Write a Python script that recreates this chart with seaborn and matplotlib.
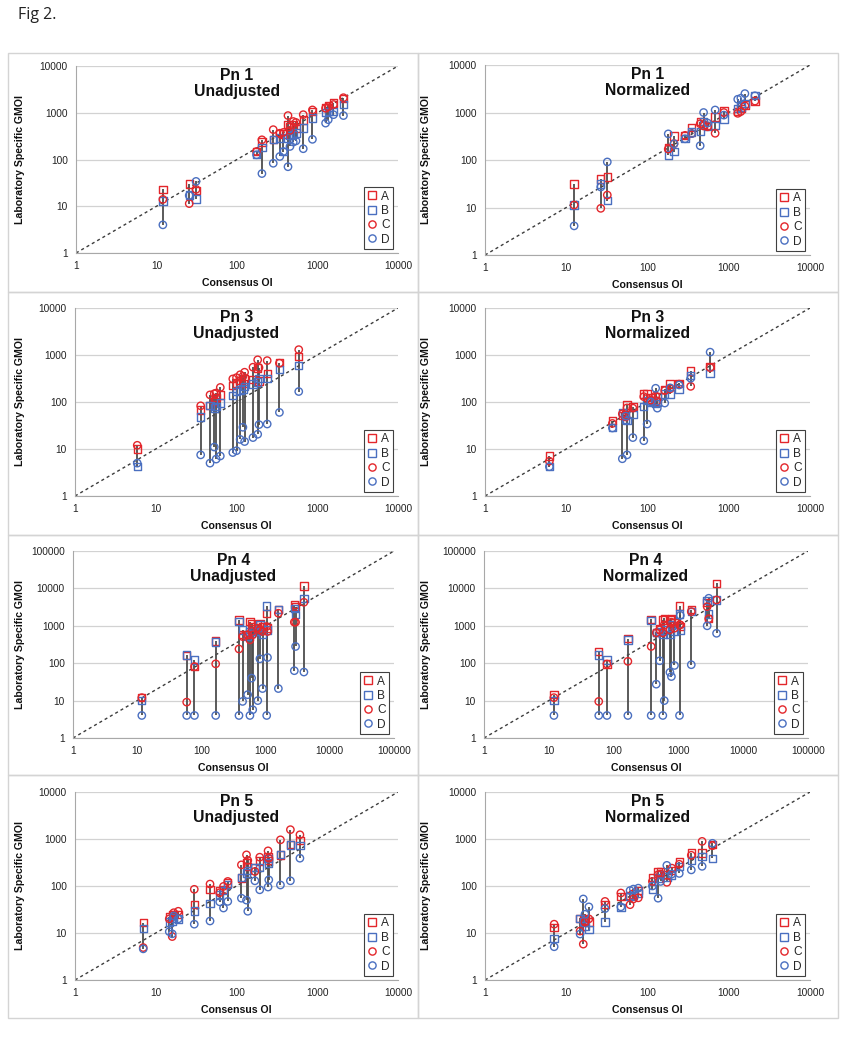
import numpy as np
import pandas as pd
import matplotlib
matplotlib.use("Agg")
import matplotlib.pyplot as plt
import seaborn as sns
from matplotlib.lines import Line2D
from matplotlib.patches import Rectangle
from matplotlib.ticker import FixedLocator, FixedFormatter, NullLocator

# ---------------- data ----------------
series_names = ["A", "B", "C", "D"]

# Pn 1 Unadjusted
p1u_x = [12, 25.5, 31, 175, 204, 282, 340, 377, 430, 455, 500, 540, 665, 865, 1260, 1360, 1580, 2100]
p1u_A = [23, 30, 22, 148, 236, 264, 365, 350, 560, 510, 550, 460, 700, 1050, 1300, 1450, 1620, 2050]
p1u_B = [13, 17.5, 14.4, 126, 181, 264, 288, 148, 290, 330, 340, 370, 470, 770, 1000, 1080, 1070, 1480]
p1u_C = [14, 11.4, 23, 148, 264, 435, 365, 380, 870, 420, 650, 620, 910, 1150, 1250, 1350, 1500, 2100]
p1u_D = [4, 17, 34, 126, 50, 83, 116, 148, 70, 190, 236, 250, 170, 270, 600, 710, 910, 870]

# Pn 1 Normalized
p1n_x = [12.5, 26.6, 32, 180, 212, 290, 350, 445, 490, 550, 680, 870, 1290, 1410, 1580, 2100]
p1n_A = [31, 40, 44, 182, 320, 330, 480, 640, 560, 530, 800, 1070, 1040, 1200, 1440, 1740]
p1n_B = [11.3, 31, 14, 127, 150, 280, 390, 400, 650, 520, 530, 730, 1200, 1300, 1560, 2250]
p1n_C = [11.3, 9.6, 18.3, 170, 220, 330, 360, 580, 520, 500, 365, 1000, 960, 1050, 1380, 1740]
p1n_D = [4.1, 27, 91, 355, 220, 280, 360, 200, 1000, 600, 1130, 880, 1900, 2000, 2500, 2250]

# Pn 3 Unadjusted
p3u_x = [5.9, 36, 47, 53, 56, 63, 90, 100, 111, 120, 126, 160, 183, 190, 240, 340, 590]
p3u_A = [10, 68, 85, 102, 125, 140, 225, 255, 290, 250, 310, 300, 525, 280, 410, 690, 930]
p3u_B = [4.2, 48, 83, 74, 80, 95, 138, 167, 180, 190, 215, 240, 265, 320, 320, 490, 600]
p3u_C = [12, 83, 142, 150, 155, 204, 310, 330, 380, 350, 430, 550, 790, 540, 760, 670, 1300]
p3u_D = [5, 7.5, 5, 11, 6.1, 7.1, 8.4, 9.2, 16, 29, 14.4, 17.5, 20.6, 33, 34, 60, 167]

# Pn 3 Normalized
p3n_x = [6.2, 37, 49, 54, 56, 66, 90, 99, 110, 126, 132, 163, 190, 245, 340, 590]
p3n_A = [7.1, 40, 51, 55, 87, 80, 147, 147, 125, 105, 130, 187, 240, 250, 460, 575]
p3n_B = [4.2, 29, 60, 42, 40, 55, 80, 106, 100, 92, 100, 147, 147, 190, 365, 410]
p3n_C = [5.5, 35, 56, 48, 75, 74, 130, 120, 110, 135, 105, 175, 190, 240, 215, 540]
p3n_D = [4.2, 28, 6.2, 50, 7.5, 17.5, 15, 34, 100, 196, 74, 95, 200, 230, 320, 1150]

# Pn 4 Unadjusted
p4u_x = [11.8, 59, 78, 167, 385, 438, 525, 570, 605, 630, 755, 815, 895, 1040, 1070, 1580, 2800, 2930, 3950]
p4u_A = [12.2, 160, 81, 395, 1440, 575, 575, 1300, 1170, 955, 1060, 1170, 955, 2170, 865, 2680, 3650, 3250, 11700]
p4u_B = [10, 167, 123, 370, 1300, 780, 515, 705, 635, 705, 705, 1060, 575, 3400, 780, 2680, 2950, 2040, 5450]
p4u_C = [12, 9.1, 81, 96, 240, 515, 575, 420, 705, 575, 865, 780, 705, 955, 705, 2170, 1250, 1250, 4250]
p4u_D = [4, 4, 4, 4, 4, 9.5, 14.4, 4, 40, 5.7, 10, 131, 21, 4, 142, 21, 63, 280, 58]

# Pn 4 Normalized
p4n_x = [12, 59, 79, 166, 380, 455, 515, 575, 605, 740, 780, 870, 1040, 1070, 1580, 2780, 2940, 3880]
p4n_A = [14.4, 205, 95, 450, 1500, 675, 830, 1440, 1580, 1440, 1580, 1250, 3400, 955, 2680, 4250, 1540, 13700]
p4n_B = [10, 167, 123, 420, 1400, 650, 705, 575, 780, 575, 1060, 705, 2050, 740, 2400, 4800, 2050, 4900]
p4n_C = [12, 9.5, 95, 112, 280, 650, 780, 650, 1060, 780, 1250, 865, 1060, 1060, 2400, 3250, 1540, 4900]
p4n_D = [4, 4, 4, 4, 4, 27.5, 116, 4, 10, 57, 44, 87, 4, 1900, 91, 1000, 5450, 630]

# Pn 5 Unadjusted
p5u_x = [7.0, 14.7, 16, 16.7, 19, 30, 47, 62, 69, 78, 115, 133, 138, 169, 194, 246, 251, 350, 465, 610]
p5u_A = [16.6, 22.4, 24, 25, 25, 41, 83, 81, 85, 115, 148, 308, 260, 250, 340, 425, 350, 460, 760, 920]
p5u_B = [12.6, 17, 18, 21, 20, 29.5, 43, 64, 80, 106, 152, 190, 215, 245, 246, 390, 310, 470, 740, 720]
p5u_C = [4.9, 20, 8.4, 27, 29, 85, 110, 72, 98, 125, 282, 460, 350, 204, 410, 560, 390, 960, 1580, 1230]
p5u_D = [4.6, 10.7, 9.6, 23, 20, 15.4, 18, 46, 34, 47, 55, 50, 29, 129, 83, 95, 135, 105, 129, 390]

# Pn 5 Normalized
p5n_x = [7.1, 14.8, 16.2, 17, 19, 30, 47, 61, 67, 77, 115, 135, 145, 173, 199, 246, 346, 470, 630]
p5n_A = [13, 20.6, 19, 20.6, 17, 40, 60, 63, 67, 80, 152, 204, 200, 174, 215, 323, 500, 500, 770]
p5n_B = [7.7, 20.6, 17, 14, 11.7, 17, 35, 60, 63, 70, 87, 147, 174, 155, 167, 260, 345, 420, 390]
p5n_C = [15.4, 11, 5.8, 17, 20, 47, 71, 40, 53, 56, 125, 174, 180, 120, 240, 290, 450, 890, 720]
p5n_D = [5.1, 9.5, 53, 25, 36, 33, 36, 80, 86, 90, 100, 55, 125, 275, 180, 185, 220, 262, 810]

panel_titles = ["Pn 1\nUnadjusted", "Pn 1\nNormalized",
                "Pn 3\nUnadjusted", "Pn 3\nNormalized",
                "Pn 4\nUnadjusted", "Pn 4\nNormalized",
                "Pn 5\nUnadjusted", "Pn 5\nNormalized"]
ticks_4 = [1, 10, 100, 1000, 10000]
ticks_5 = [1, 10, 100, 1000, 10000, 100000]

panels = [
    (p1u_x, p1u_A, p1u_B, p1u_C, p1u_D, ticks_4),
    (p1n_x, p1n_A, p1n_B, p1n_C, p1n_D, ticks_4),
    (p3u_x, p3u_A, p3u_B, p3u_C, p3u_D, ticks_4),
    (p3n_x, p3n_A, p3n_B, p3n_C, p3n_D, ticks_4),
    (p4u_x, p4u_A, p4u_B, p4u_C, p4u_D, ticks_5),
    (p4n_x, p4n_A, p4n_B, p4n_C, p4n_D, ticks_5),
    (p5u_x, p5u_A, p5u_B, p5u_C, p5u_D, ticks_4),
    (p5n_x, p5n_A, p5n_B, p5n_C, p5n_D, ticks_4),
]

# ---------------- style ----------------
sns.set_style("white")
plt.rcParams["font.family"] = ["Liberation Sans", "DejaVu Sans"]

RED = "#E3262B"
BLUE = "#4A6FC0"
series_style = {"A": ("s", RED), "B": ("s", BLUE), "C": ("o", RED), "D": ("o", BLUE)}

W, H = 841, 1042
fig = plt.figure(figsize=(W / 100, H / 100), dpi=100)


def rect(l, r, t, b):
    return [l / W, 1 - b / H, (r - l) / W, (b - t) / H]


axes_px = [
    (76, 398, 66, 253), (485, 810, 65, 255),
    (75, 398, 308, 496), (485, 810, 308, 496),
    (73, 394, 551, 738), (484, 808, 551, 738),
    (75, 398, 792, 980), (485, 810, 792, 980),
]

# panel frames
row_edges = [(53, 292), (292, 535), (535, 775), (775, 1018)]
col_edges = [(8, 418), (418, 838)]
for (t, b) in row_edges:
    for (l, r) in col_edges:
        fig.patches.append(Rectangle((l / W, 1 - b / H), (r - l) / W, (b - t) / H,
                                     transform=fig.transFigure, fill=False,
                                     edgecolor="#D4D4D4", lw=1.0))

fig.text(18 / W, 1 - 15 / H, "Fig 2.", fontsize=11.5, va="center", ha="left",
         family=["Open Sans", "DejaVu Sans"], color="#222222")

for i, (px, title) in enumerate(zip(axes_px, panel_titles)):
    xs, A, B, C, D, ticks = panels[i]
    ax = fig.add_axes(rect(*px))
    ax.set_xscale("log")
    ax.set_yscale("log")
    top = ticks[-1]
    ax.set_xlim(1, top)
    ax.set_ylim(1, top)

    df = pd.DataFrame({"x": xs, "A": A, "B": B, "C": C, "D": D})
    lo = df[series_names].min(axis=1)
    hi = df[series_names].max(axis=1)
    ax.vlines(df["x"], lo, hi, color="#4D4D4D", lw=1.3, zorder=2)

    ax.axline((1, 1), (10, 10), ls=(0, (2.2, 2.2)), color="#3C3C3C", lw=1.0, zorder=1)

    for s in series_names:
        m, c = series_style[s]
        sns.scatterplot(x=df["x"], y=df[s], ax=ax, marker=m, s=28,
                        facecolor="none", edgecolor=c, linewidth=1.0, zorder=3,
                        legend=False)

    ax.set_xlabel("")
    ax.set_ylabel("")
    ax.xaxis.set_major_locator(FixedLocator(ticks))
    ax.xaxis.set_major_formatter(FixedFormatter([str(t) for t in ticks]))
    ax.yaxis.set_major_locator(FixedLocator(ticks))
    ax.yaxis.set_major_formatter(FixedFormatter([str(t) for t in ticks]))
    ax.xaxis.set_minor_locator(NullLocator())
    ax.yaxis.set_minor_locator(NullLocator())
    ax.tick_params(axis="both", length=0, labelsize=7.3, colors="#222222")
    ax.tick_params(axis="x", pad=6)
    ax.tick_params(axis="y", pad=6)
    ax.yaxis.grid(True, color="#D2D2D2", lw=0.9)
    ax.xaxis.grid(False)
    ax.set_axisbelow(True)
    for sp in ["top", "right"]:
        ax.spines[sp].set_visible(False)
    for sp in ["left", "bottom"]:
        ax.spines[sp].set_color("#A8A8A8")
        ax.spines[sp].set_linewidth(0.8)

    ax.text(0.5, 0.99, title, transform=ax.transAxes, ha="center", va="top",
            fontsize=11.3, fontweight="bold", linespacing=1.12, color="#111111")

    ax.set_xlabel("Consensus OI", fontsize=7.6, fontweight="bold", labelpad=5,
                  color="#111111")

    l, r, t, b = px
    lab_x = 20 if i % 2 == 0 else 426
    fig.text(lab_x / W, 1 - ((t + b) / 2) / H, "Laboratory Specific GMOI",
             rotation=90, ha="center", va="center", fontsize=7.6,
             fontweight="bold", color="#111111")

    handles = [Line2D([], [], ls="none", marker=series_style[s][0], markersize=5.2,
                      markerfacecolor="none", markeredgecolor=series_style[s][1],
                      markeredgewidth=1.0) for s in series_names]
    leg = ax.legend(handles, series_names, loc="lower right",
                    bbox_to_anchor=(0.985, 0.02), fontsize=8.6, frameon=True,
                    fancybox=False, framealpha=1, edgecolor="#404040",
                    borderpad=0.3, labelspacing=0.2, handlelength=0.8,
                    handletextpad=0.35, borderaxespad=0.0)
    leg.get_frame().set_linewidth(0.8)

fig.savefig("out.png", dpi=100, facecolor="white")
